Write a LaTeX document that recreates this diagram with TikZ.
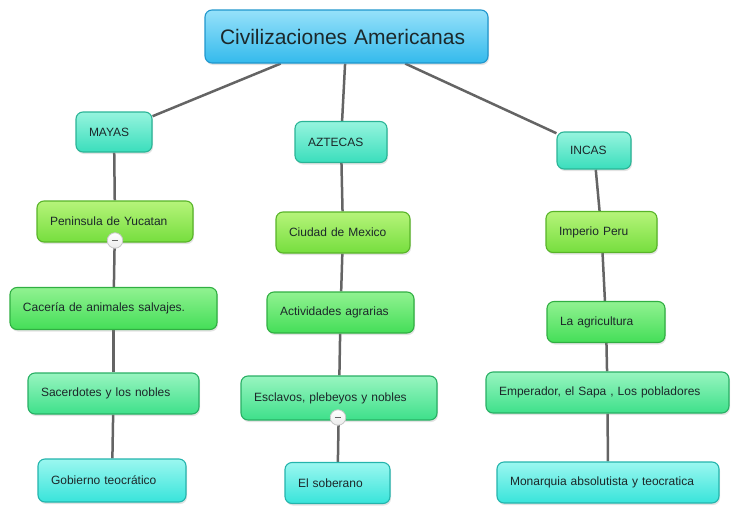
\documentclass[tikz,border=0pt]{standalone}
\usepackage{fontspec}
\setmainfont{Liberation Sans}
\usepackage{tikz}
\usetikzlibrary{shadows,backgrounds}
\definecolor{titletop}{RGB}{150,225,250}
\definecolor{titlebot}{RGB}{52,186,236}
\definecolor{titleline}{RGB}{32,150,205}
\definecolor{minttop}{RGB}{150,244,222}
\definecolor{mintbot}{RGB}{58,222,188}
\definecolor{mintline}{RGB}{42,180,150}
\definecolor{limetop}{RGB}{182,244,122}
\definecolor{limebot}{RGB}{118,222,62}
\definecolor{limeline}{RGB}{88,180,40}
\definecolor{greentop}{RGB}{145,242,145}
\definecolor{greenbot}{RGB}{68,222,88}
\definecolor{greenline}{RGB}{48,175,66}
\definecolor{jadetop}{RGB}{152,245,192}
\definecolor{jadebot}{RGB}{62,224,138}
\definecolor{jadeline}{RGB}{40,175,100}
\definecolor{cyantop}{RGB}{155,247,240}
\definecolor{cyanbot}{RGB}{56,228,218}
\definecolor{cyanline}{RGB}{36,180,172}
\definecolor{linkgray}{RGB}{100,100,100}
\definecolor{textdark}{RGB}{28,40,42}

\begin{document}
\begin{tikzpicture}[x=1pt, y=-1pt,
        cbox/.style={draw, rounded corners=7pt, line width=1.1pt, align=left,
                     inner xsep=13pt, inner ysep=0pt, minimum height=41pt,
                     font=\fontsize{12}{14}\selectfont, text=textdark,
                     drop shadow={shadow xshift=1pt, shadow yshift=-2pt, opacity=0.22}},
        tbox/.style={cbox, top color=titletop, bottom color=titlebot, draw=titleline,
                     inner xsep=15pt, minimum height=53pt, font=\fontsize{21}{25}\selectfont},
        civbox/.style={cbox, top color=minttop, bottom color=mintbot, draw=mintline},
        placebox/.style={cbox, top color=limetop, bottom color=limebot, draw=limeline},
        workbox/.style={cbox, top color=greentop, bottom color=greenbot, draw=greenline},
        classbox/.style={cbox, top color=jadetop, bottom color=jadebot, draw=jadeline},
        govbox/.style={cbox, top color=cyantop, bottom color=cyanbot, draw=cyanline},
        link/.style={draw=linkgray, line width=2.5pt},
        mbtn/.style={circle, draw=gray!45, line width=0.8pt, top color=white,
                     bottom color=gray!15, minimum size=15.5pt, inner sep=0pt}
    ]
    \useasboundingbox (0,0) rectangle (739,517);
    \node[tbox, text width=253pt] (title) at (346.5,36.5) {Civilizaciones Americanas};

    \node[civbox, text width=50pt, minimum height=40pt] (mayas) at (114,132) {MAYAS};
    \node[civbox, text width=66pt] (aztecas) at (341,142) {AZTECAS};
    \node[civbox, text width=48pt, minimum height=37pt] (incas) at (594,150.5) {INCAS};

    \node[placebox, text width=130pt] (yucatan) at (115,221.5) {Peninsula de Yucatan};
    \node[placebox, text width=108pt] (ciudad) at (343,232.5) {Ciudad de Mexico};
    \node[placebox, text width=85pt] (peru) at (601.5,232) {Imperio Peru};

    \node[workbox, text width=181pt, minimum height=42pt] (caceria) at (113.5,308.5) {Cacería de animales salvajes.};
    \node[workbox, text width=121pt] (agrarias) at (340.5,312.5) {Actividades agrarias};
    \node[workbox, text width=92pt] (agricultura) at (606,322) {La agricultura};

    \node[classbox, text width=145pt] (sacerdotes) at (113.5,393.5) {Sacerdotes y los nobles};
    \node[classbox, text width=170pt, minimum height=44pt] (esclavos) at (339,398) {Esclavos, plebeyos y nobles};
    \node[classbox, text width=217pt] (emperador) at (607.5,392.5) {Emperador, el Sapa , Los pobladores};

    \node[govbox, text width=122pt, minimum height=43pt] (gobierno) at (112,480.5) {Gobierno teocrático};
    \node[govbox, text width=79pt] (soberano) at (337.5,483) {El soberano};
    \node[govbox, text width=196pt] (monarquia) at (608,482.5) {Monarquia absolutista y teocratica};

    \begin{scope}[on background layer]
    \draw[link] (title) -- (mayas);
    \draw[link] (title) -- (aztecas);
    \draw[link] (title) -- (incas);
    \draw[link] (mayas) -- (yucatan);
    \draw[link] (yucatan) -- (caceria);
    \draw[link] (caceria) -- (sacerdotes);
    \draw[link] (sacerdotes) -- (gobierno);
    \draw[link] (aztecas) -- (ciudad);
    \draw[link] (ciudad) -- (agrarias);
    \draw[link] (agrarias) -- (esclavos);
    \draw[link] (esclavos) -- (soberano);
    \draw[link] (incas) -- (peru);
    \draw[link] (peru) -- (agricultura);
    \draw[link] (agricultura) -- (emperador);
    \draw[link] (emperador) -- (monarquia);
    \end{scope}

    \node[mbtn] (ymin) at (115,240.5) {\color{gray!80!black}\rule[-0.8pt]{6.5pt}{1.6pt}};
    \node[mbtn] (emin) at (338,417.5) {\color{gray!80!black}\rule[-0.8pt]{6.5pt}{1.6pt}};
\end{tikzpicture}
\end{document}
